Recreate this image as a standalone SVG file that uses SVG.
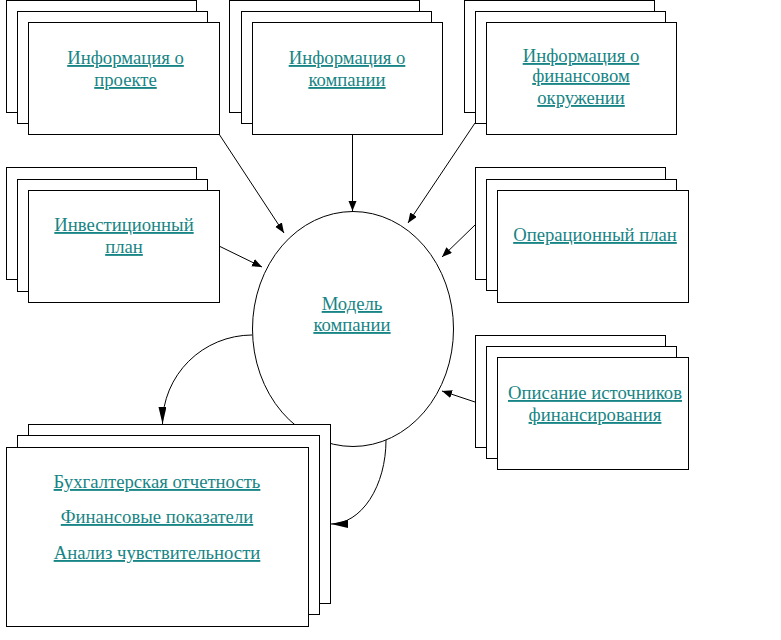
<svg xmlns="http://www.w3.org/2000/svg" width="781" height="640" viewBox="0 0 781 640">
<defs>
<style>
.b{fill:#fff;stroke:#000;stroke-width:1}
.t{font-family:"Liberation Serif","Times New Roman",serif;font-size:18.7px;fill:#178585;text-anchor:middle;text-decoration:underline}
.c{fill:none;stroke:#000;stroke-width:1}
</style>
<marker id="a" markerUnits="userSpaceOnUse" markerWidth="12" markerHeight="10" refX="10" refY="4" orient="auto"><path d="M0,0 L10,4 L0,8 z" fill="#000"/></marker>
<marker id="a2" markerUnits="userSpaceOnUse" markerWidth="18" markerHeight="10" refX="17" refY="4" orient="auto"><path d="M0,0 L17,4 L0,8 z" fill="#000"/></marker>
</defs>
<rect width="781" height="640" fill="#fff"/>
<g id="model">
<ellipse class="b" cx="353" cy="329" rx="100.5" ry="117.5"/>
<text class="t" x="352" y="310">Модель</text>
<text class="t" x="352" y="331">компании</text>
</g>
<g id="connectors">
<line class="c" x1="219" y1="134" x2="284" y2="233" marker-end="url(#a)"/>
<line class="c" x1="352.5" y1="134" x2="352.5" y2="211" marker-end="url(#a)"/>
<line class="c" x1="475" y1="123" x2="408" y2="223" marker-end="url(#a)"/>
<line class="c" x1="219" y1="246" x2="262" y2="267" marker-end="url(#a)"/>
<line class="c" x1="475" y1="225" x2="442" y2="257" marker-end="url(#a)"/>
<line class="c" x1="475" y1="402" x2="442" y2="391" marker-end="url(#a)"/>
<path class="c" d="M252,335 A90,89 0 0,0 162.5,424" marker-end="url(#a2)"/>
<path class="c" d="M386,440 A55,84 0 0,1 331,524" marker-end="url(#a2)"/>
</g>
<g id="info-project">
<rect class="b" x="6.5" y="0.5" width="190" height="112"/>
<rect class="b" x="17.5" y="11.5" width="190" height="112"/>
<rect class="b" x="28.5" y="22.5" width="191" height="112"/>
<text class="t" x="125.5" y="64">Информация о</text>
<text class="t" x="125.5" y="86">проекте</text>
</g>
<g id="info-company">
<rect class="b" x="229.5" y="0.5" width="190" height="112"/>
<rect class="b" x="241.5" y="11.5" width="190" height="112"/>
<rect class="b" x="252.5" y="22.5" width="190" height="112"/>
<text class="t" x="347" y="64">Информация о</text>
<text class="t" x="347" y="86">компании</text>
</g>
<g id="info-finance">
<rect class="b" x="464.5" y="0.5" width="190" height="112"/>
<rect class="b" x="475.5" y="11.5" width="190" height="112"/>
<rect class="b" x="486.5" y="22.5" width="190" height="112"/>
<text class="t" x="581" y="62">Информация о</text>
<text class="t" x="581" y="82">финансовом</text>
<text class="t" x="581" y="104">окружении</text>
</g>
<g id="invest-plan">
<rect class="b" x="6.5" y="167.5" width="190" height="112"/>
<rect class="b" x="17.5" y="179.5" width="190" height="112"/>
<rect class="b" x="28.5" y="190.5" width="191" height="112"/>
<text class="t" x="124" y="231">Инвестиционный</text>
<text class="t" x="124" y="253">план</text>
</g>
<g id="operation-plan">
<rect class="b" x="475.5" y="167.5" width="190" height="112"/>
<rect class="b" x="486.5" y="179.5" width="190" height="111"/>
<rect class="b" x="497.5" y="190.5" width="191" height="112"/>
<text class="t" x="595" y="241">Операционный план</text>
</g>
<g id="financing">
<rect class="b" x="475.5" y="335.5" width="190" height="112"/>
<rect class="b" x="486.5" y="346.5" width="190" height="112"/>
<rect class="b" x="497.5" y="357.5" width="191" height="112"/>
<text class="t" x="595" y="399">Описание источников</text>
<text class="t" x="595" y="421">финансирования</text>
</g>
<g id="reports">
<rect class="b" x="28.5" y="424.5" width="302" height="179"/>
<rect class="b" x="17.5" y="435.5" width="302" height="179"/>
<rect class="b" x="6.5" y="447.5" width="302" height="179"/>
<text class="t" x="157" y="488">Бухгалтерская отчетность</text>
<text class="t" x="157" y="523">Финансовые показатели</text>
<text class="t" x="157" y="559">Анализ чувствительности</text>
</g>
</svg>
